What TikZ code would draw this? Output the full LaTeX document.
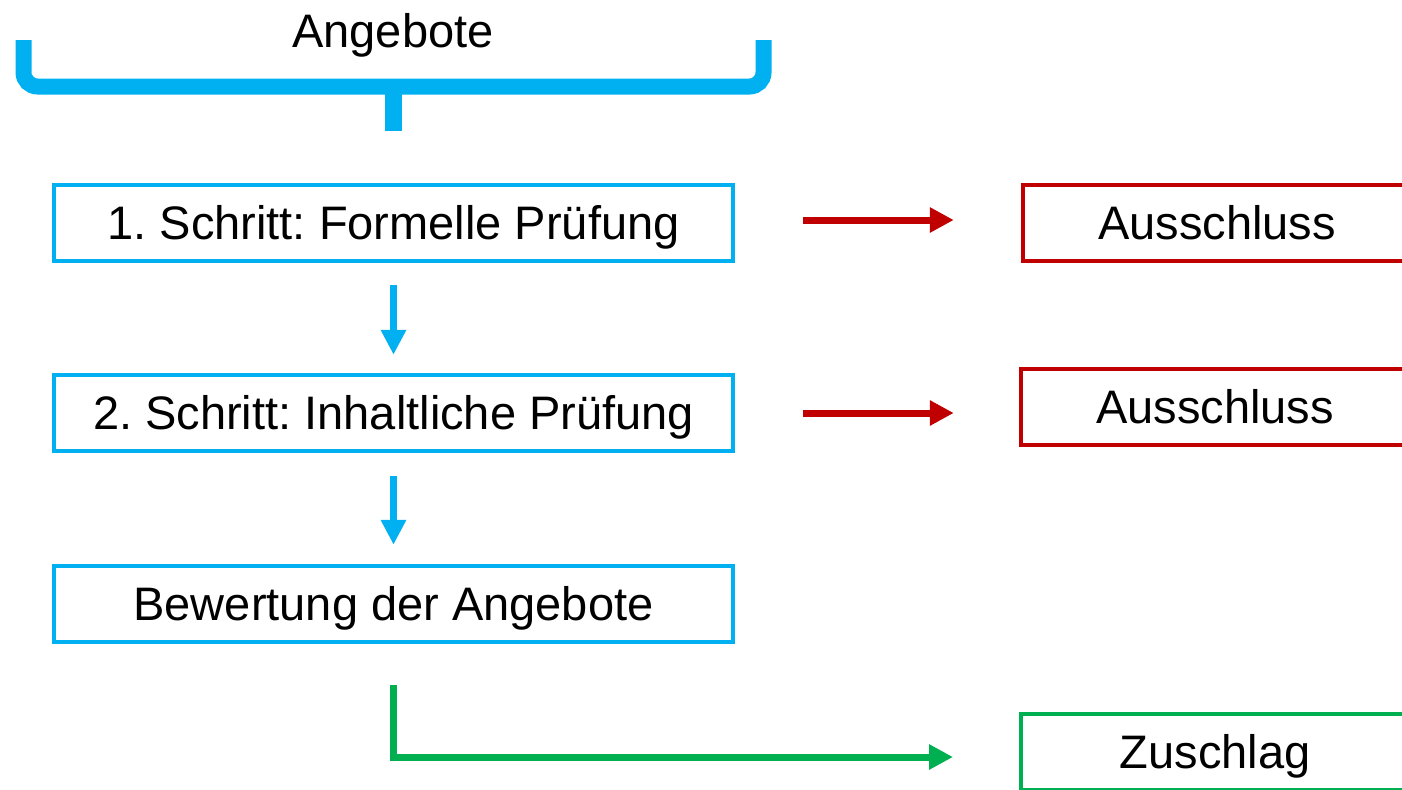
\documentclass[tikz,border=0pt]{standalone}
\usepackage{fontspec}
\setmainfont{Liberation Sans}
\usetikzlibrary{arrows.meta}
\definecolor{pblue}{HTML}{00B0F0}
\definecolor{pred}{HTML}{C00000}
\definecolor{pgreen}{HTML}{00B050}
\frenchspacing
\tikzset{
  txt/.style={font=\fontsize{23.5}{28}\selectfont, text height=16.8pt, text depth=0pt, inner sep=0pt},
  stepbox/.style={txt, draw=pblue, line width=2.25pt, minimum width=339.5pt, minimum height=38pt},
  outbox/.style={txt, draw=pred, line width=2.25pt, minimum width=194pt, minimum height=38pt},
  winbox/.style={txt, draw=pgreen, line width=2.25pt, minimum width=194pt, minimum height=38pt},
  bluearr/.style={draw=pblue, line width=3.5pt, -{Triangle[length=12.5pt,width=12pt]}},
  redarr/.style={draw=pred, line width=3.5pt, -{Triangle[length=12pt,width=12pt]}},
  greenarr/.style={draw=pgreen, line width=3.5pt, -{Triangle[length=12pt,width=12pt]}},
  bracepart/.style={draw=pblue, line width=8pt}
}
\begin{document}
\begin{tikzpicture}[x=0.5pt,y=-0.5pt]
\useasboundingbox (0,0) rectangle (1402,789);
\clip (0,0) rectangle (1402,789);
\fill[white] (0,0) rectangle (1402,789);
% brace
\node[txt, anchor=base] (title) at (393,47) {Angebote};
\draw[bracepart, rounded corners=7pt] (23.5,40) -- (23.5,86.5) -- (763.5,86.5) -- (763.5,40);
\coordinate (bracetip) at (393.5,86.5);
\coordinate (braceend) at (393.5,131);
\draw[draw=pblue, line width=8.5pt] (bracetip) -- (braceend);
% steps
\node[stepbox] (b1) at (393.5,223) {1. Schritt: Formelle Prüfung};
\node[stepbox] (b2) at (393.5,413) {2. Schritt: Inhaltliche Prüfung};
\node[stepbox] (b3) at (393.5,604) {Bewertung der Angebote};
% results
\node[outbox] (a1) at (1217,223) {Ausschluss};
\node[outbox] (a2) at (1215,407) {Ausschluss};
\node[winbox] (z) at (1215,752) {Zuschlag};
% arrows
\draw[bluearr, shorten <=11pt, shorten >=9pt] (b1.south) -- (b2.north);
\draw[bluearr, shorten <=11.5pt, shorten >=9.5pt] (b2.south) -- (b3.north);
\draw[redarr, shorten <=34pt, shorten >=33.5pt] ([yshift=1.5pt]b1.east) -- ([yshift=1.5pt]b1.east -| a1.west);
\draw[redarr, shorten <=34pt, shorten >=32.5pt] (b2.east) -- (b2.east -| a2.west);
\coordinate (zin) at (953,757);
\draw[greenarr, shorten <=20.5pt] (b3.south) |- (zin);
\end{tikzpicture}
\end{document}
